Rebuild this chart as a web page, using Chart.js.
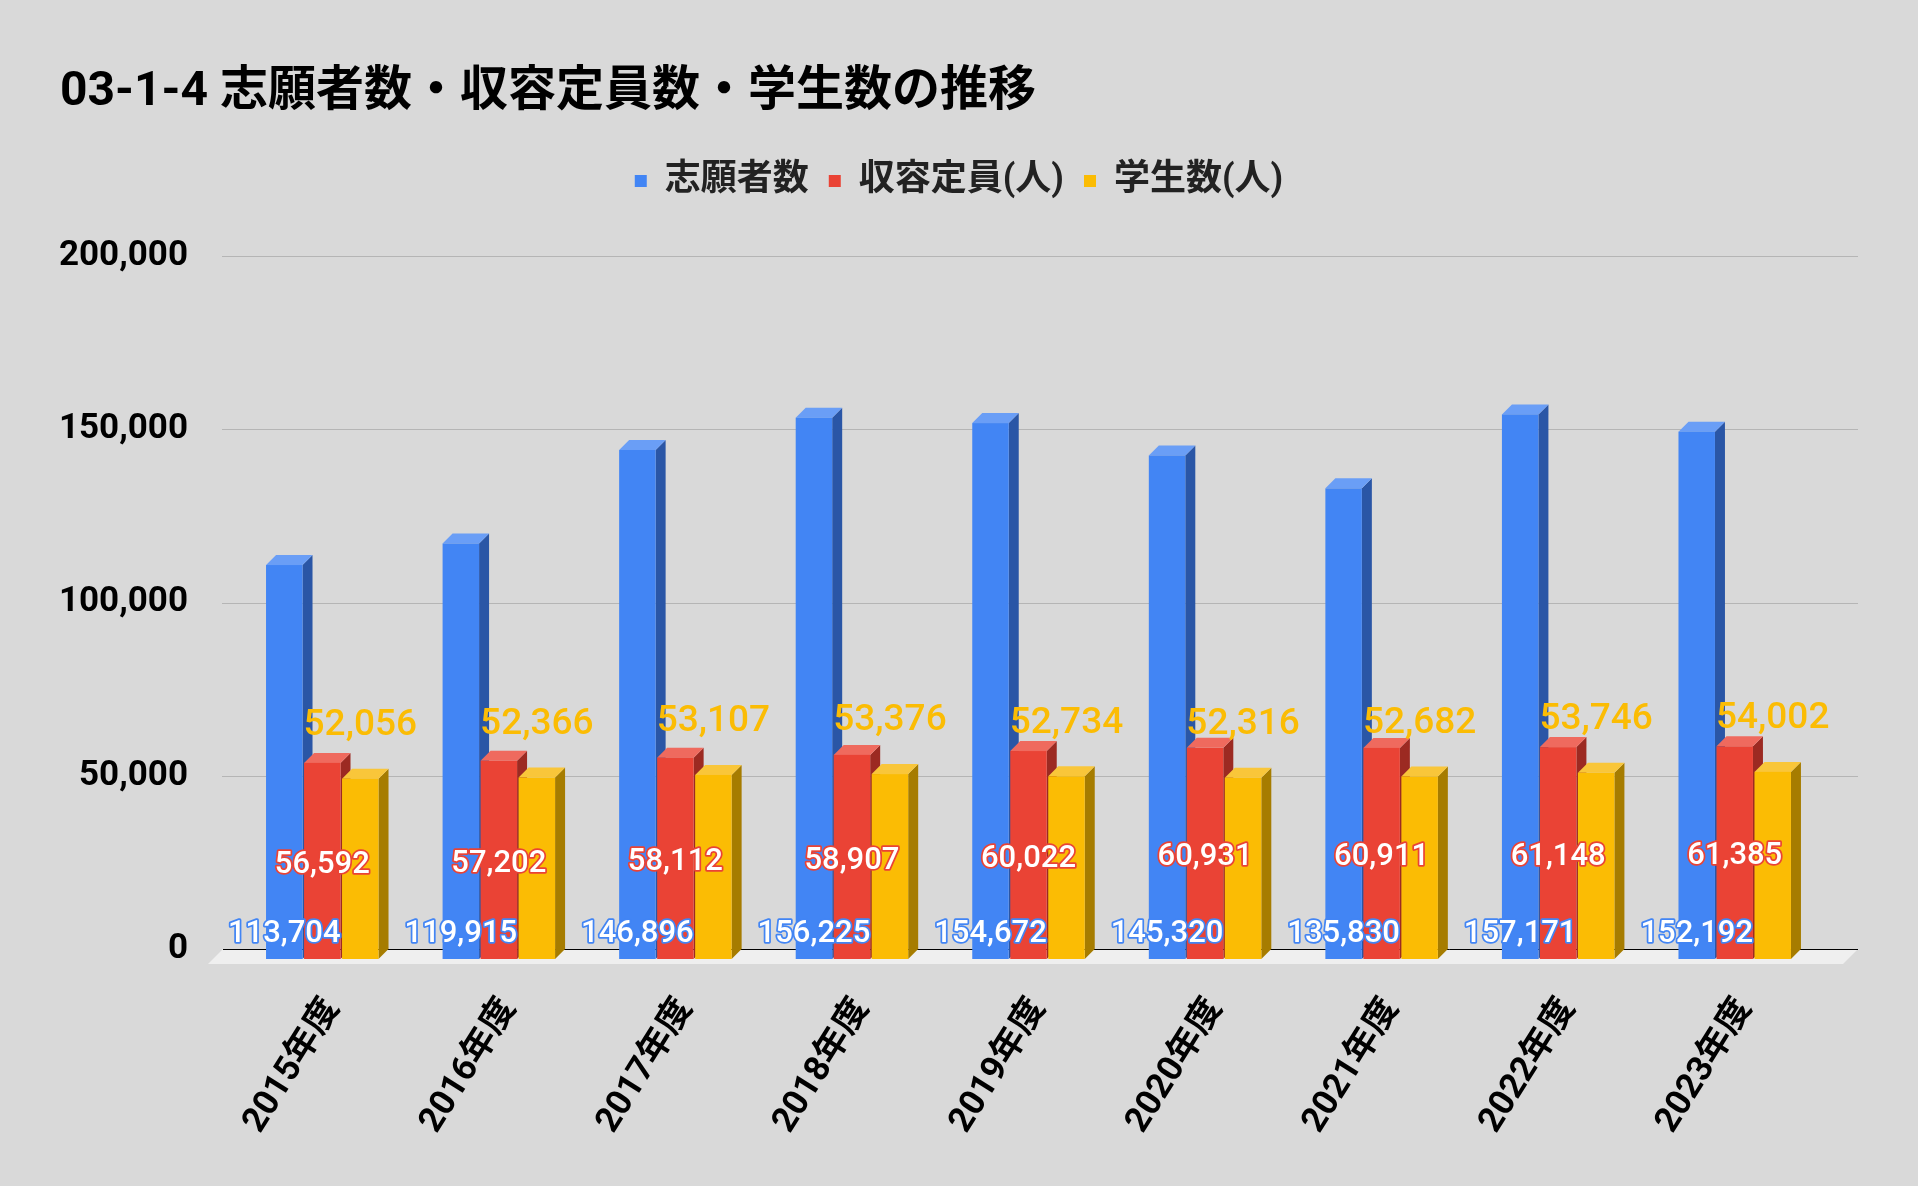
<!DOCTYPE html>
<html>
<head>
<meta charset="utf-8">
<title>03-1-4 志願者数・収容定員数・学生数の推移</title>
<script src="https://cdn.jsdelivr.net/npm/chart.js"></script>
<style>
  html, body { margin: 0; padding: 0; background: #d9d9d9; }
  canvas { display: block; }
</style>
</head>
<body>
<canvas id="chart" width="1918" height="1186"></canvas>
<script>
// 年度ごとのデータ
const categories = ['2015年度', '2016年度', '2017年度', '2018年度', '2019年度', '2020年度', '2021年度', '2022年度', '2023年度'];
const applicants = [113704, 119915, 146896, 156225, 154672, 145320, 135830, 157171, 152192];
const capacity = [56592, 57202, 58112, 58907, 60022, 60931, 60911, 61148, 61385];
const students = [52056, 52366, 53107, 53376, 52734, 52316, 52682, 53746, 54002];
const seriesNames = ['志願者数', '収容定員(人)', '学生数(人)'];
const yTicks = [0, 50000, 100000, 150000, 200000];

const FONT = "Roboto, 'Noto Sans CJK JP', sans-serif";
const DEPTH = 10;
const faces = [
  { front: '#4285f4', top: '#6a9ef6', side: '#2a56a6' },
  { front: '#ea4335', top: '#ef6a5e', side: '#9c2a22' },
  { front: '#fbbc04', top: '#f9c63a', side: '#a67c00' }
];
const fmt = v => v.toLocaleString('en-US');

// 立体の棒・床・目盛線・数値ラベル
const bars3d = {
  id: 'bars3d',
  beforeDatasetsDraw(chart) {
    const { ctx } = chart;
    const xs = chart.scales.x, ys = chart.scales.y;
    const l = xs.left - 22, r = xs.right + 25;
    const base = ys.getPixelForValue(0);
    ctx.save();
    ctx.strokeStyle = '#b5b5b5';
    ctx.lineWidth = 1;
    yTicks.forEach(v => {
      if (v === 0) return;
      const y = Math.round(ys.getPixelForValue(v)) + 0.5;
      ctx.beginPath(); ctx.moveTo(l, y); ctx.lineTo(r, y); ctx.stroke();
    });
    ctx.fillStyle = '#efefef';
    ctx.beginPath();
    ctx.moveTo(l + 1, base);
    ctx.lineTo(r, base);
    ctx.lineTo(r - 15, base + 15);
    ctx.lineTo(l - 14, base + 15);
    ctx.closePath();
    ctx.fill();
    ctx.strokeStyle = '#000';
    ctx.beginPath(); ctx.moveTo(l + 1, base + 0.5); ctx.lineTo(r, base + 0.5); ctx.stroke();
    ctx.restore();
  },
  beforeDatasetDraw() {
    return false;
  },
  afterDatasetsDraw(chart) {
    const { ctx } = chart;
    const d = DEPTH;
    ctx.save();
    chart.data.datasets.forEach((ds, i) => {
      const c = faces[i];
      chart.getDatasetMeta(i).data.forEach(bar => {
        const { x, y, base, width } = bar.getProps(['x', 'y', 'base', 'width'], true);
        const xl = x - width / 2, xr = x + width / 2;
        ctx.fillStyle = c.side;
        ctx.beginPath();
        ctx.moveTo(xr - d, y + d); ctx.lineTo(xr, y); ctx.lineTo(xr, base); ctx.lineTo(xr - d, base + d);
        ctx.closePath(); ctx.fill();
        ctx.fillStyle = c.top;
        ctx.beginPath();
        ctx.moveTo(xl - d, y + d); ctx.lineTo(xl, y); ctx.lineTo(xr, y); ctx.lineTo(xr - d, y + d);
        ctx.closePath(); ctx.fill();
        ctx.fillStyle = c.front;
        ctx.fillRect(xl - d, y + d, width, base - y);
      });
    });

    ctx.textAlign = 'center';
    ctx.textBaseline = 'middle';
    ctx.lineJoin = 'round';
    chart.data.datasets.forEach((ds, i) => {
      chart.getDatasetMeta(i).data.forEach((bar, j) => {
        const { x, y, base } = bar.getProps(['x', 'y', 'base'], true);
        const text = fmt(ds.data[j]);
        const cx = x - d;
        if (i === 2) {
          ctx.font = '500 37px ' + FONT;
          ctx.fillStyle = faces[2].front;
          ctx.fillText(text, cx, y - 43);
        } else {
          const cy = i === 0 ? base - 15 : (y + base) / 2 + d + 4;
          ctx.font = '500 31px ' + FONT;
          ctx.lineWidth = 3.5;
          ctx.strokeStyle = faces[i].front;
          ctx.strokeText(text, cx, cy);
          ctx.fillStyle = '#ffffff';
          ctx.fillText(text, cx, cy);
        }
      });
    });
    ctx.restore();
  }
};

const ds = (label, data, i) => ({
  label,
  data,
  backgroundColor: faces[i].front,
  borderWidth: 0,
  categoryPercentage: 0.6457,
  barPercentage: 0.96,
  yAxisID: 'y'
});

const spacer = size => ({
  type: 'linear',
  display: true,
  grid: { display: false, drawTicks: false },
  border: { display: false },
  ticks: { display: false },
  afterFit(s) { if (s.isHorizontal()) s.height = size; else s.width = size; }
});

new Chart(document.getElementById('chart'), {
  type: 'bar',
  data: {
    labels: categories,
    datasets: [
      ds(seriesNames[0], applicants, 0),
      ds(seriesNames[1], capacity, 1),
      ds(seriesNames[2], students, 2)
    ]
  },
  options: {
    responsive: false,
    animation: false,
    devicePixelRatio: 1,
    layout: { padding: { top: 57, left: 60, right: 60, bottom: 0 } },
    plugins: {
      title: {
        display: true,
        text: '03-1-4 志願者数・収容定員数・学生数の推移',
        align: 'start',
        color: '#000',
        font: { family: FONT, size: 48, weight: 'bold', lineHeight: 1 },
        padding: { top: 12, bottom: 26 }
      },
      legend: {
        position: 'top',
        labels: {
          boxWidth: 12,
          boxHeight: 12,
          padding: 20,
          color: '#222',
          font: { family: FONT, size: 36, weight: 'bold' }
        }
      },
      tooltip: { enabled: false }
    },
    scales: {
      x: {
        type: 'category',
        grid: { display: false, drawTicks: false },
        border: { display: false },
        ticks: {
          autoSkip: false,
          minRotation: 58,
          maxRotation: 58,
          padding: 42,
          color: '#000',
          font: { family: FONT, size: 35, weight: 'bold' }
        },
        afterFit(s) { s.height = 237; }
      },
      y: {
        type: 'linear',
        position: 'left',
        min: 0,
        max: 200000,
        grid: { display: false, drawTicks: false },
        border: { display: false },
        ticks: {
          stepSize: 50000,
          padding: 56,
          color: '#000',
          font: { family: FONT, size: 35, weight: 'bold' },
          callback: v => fmt(v)
        },
        afterFit(s) { s.width = 184; }
      },
      y2: Object.assign(spacer(25), { position: 'right' }),
      xTop: Object.assign(spacer(47), { position: 'top' })
    }
  },
  plugins: [bars3d]
});
</script>
</body>
</html>
